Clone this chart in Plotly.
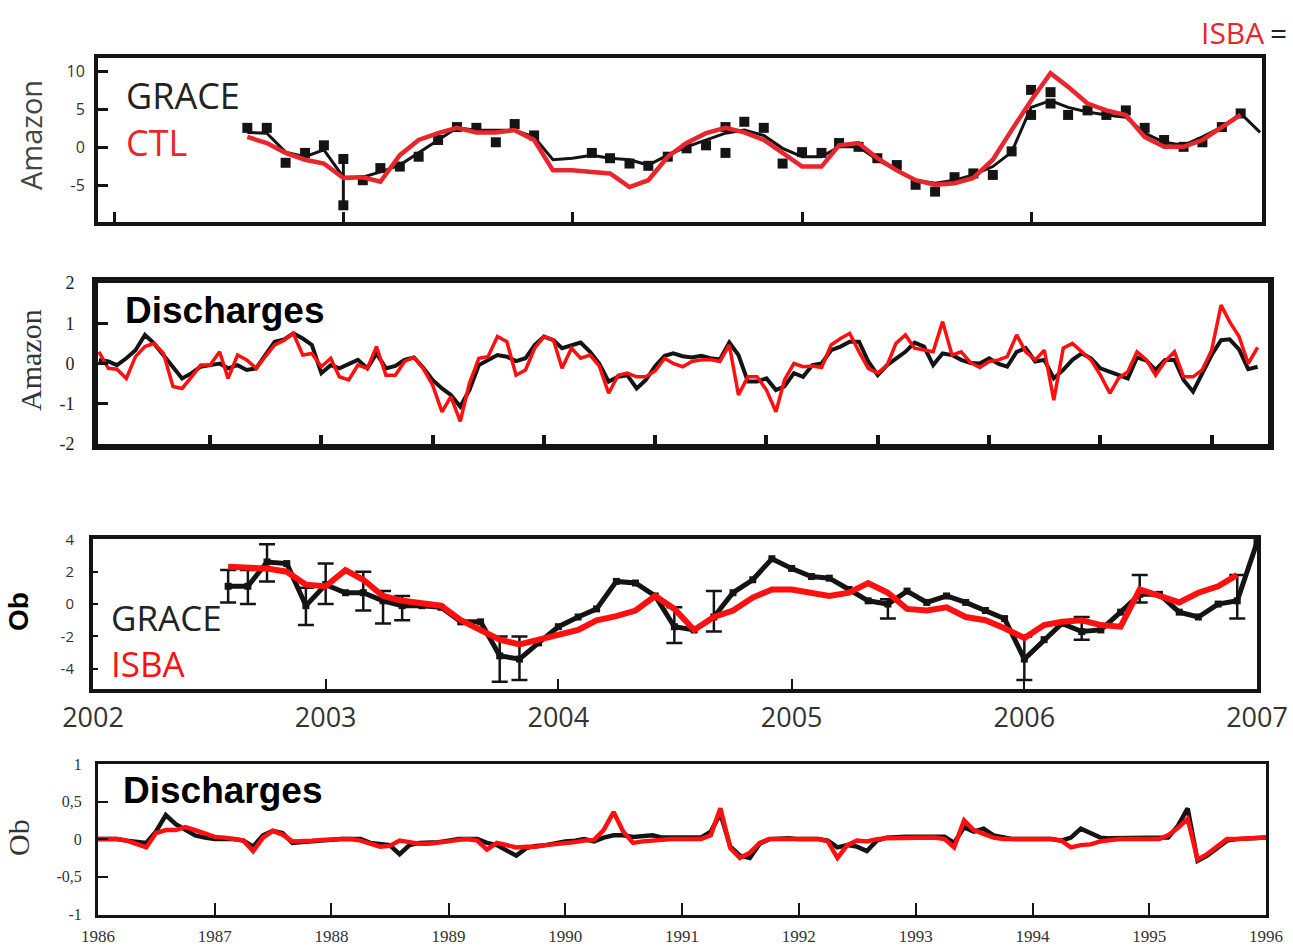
import pandas as pd
import plotly.graph_objects as go

W, H = 1293, 951

# ---------------- Amazon: water storage, GRACE vs CTL ----------------
amz_tws_months = pd.date_range("2002-08-01", periods=54, freq="MS")
amz_grace_line = [2.0, 1.9, -0.6, -1.2, -0.3, -3.9, -3.9, -3.2, -2.3, -0.7,
                  1.0, 2.6, 2.3, 2.3, 2.3, 1.4, -1.6, -1.4, -1.0, -1.4,
                  -1.6, -2.3, -1.0, 0.1, 1.0, 1.9, 2.3, 1.6, -0.1, -1.2,
                  -1.2, 0.1, 0.1, -1.6, -3.0, -4.3, -4.7, -4.3, -3.6, -2.5,
                  -0.6, 5.3, 6.2, 5.3, 4.7, 4.3, 4.0, 1.9, 0.7, 0.3,
                  1.4, 2.7, 4.5, 2.0]
amz_ctl = [1.4, 0.6, -0.7, -1.6, -2.1, -4.0, -3.9, -4.5, -1.0, 1.0,
           1.9, 2.6, 2.0, 2.0, 2.3, 1.0, -3.0, -3.0, -3.2, -3.4,
           -5.2, -4.3, -1.2, 0.6, 1.9, 2.6, 2.0, 1.0, -0.7, -2.5,
           -2.5, 0.3, 0.6, -1.4, -3.0, -4.3, -4.9, -4.7, -4.0, -1.6,
           2.3, 6.2, 9.8, 8.0, 5.8, 4.9, 4.3, 1.4, 0.1, 0.1,
           1.0, 2.6, 4.3]
amz_grace_pt_month = ["2002-08", "2002-09", "2002-10", "2002-11", "2002-12",
                      "2003-02", "2003-03", "2003-04", "2003-05", "2003-06",
                      "2003-07", "2003-08", "2003-09", "2003-10", "2003-11",
                      "2004-02", "2004-03", "2004-04", "2004-05", "2004-06",
                      "2004-07", "2004-08", "2004-09", "2004-09", "2004-10",
                      "2004-11", "2004-12", "2005-01", "2005-02", "2005-03",
                      "2005-04", "2005-05", "2005-06", "2005-07", "2005-08",
                      "2005-09", "2005-10", "2005-11", "2005-12", "2006-01",
                      "2006-01", "2006-02", "2006-02", "2006-03", "2006-04",
                      "2006-05", "2006-06", "2006-07", "2006-08", "2006-09",
                      "2006-10", "2006-11", "2006-12"]
amz_grace_pt_value = [2.6, 2.6, -2.0, -0.7, 0.3,
                      -4.3, -2.7, -2.5, -1.2, 1.0,
                      2.7, 2.6, 0.7, 3.1, 1.6,
                      -0.7, -1.4, -2.1, -2.4, -1.2,
                      -0.1, 0.3, -0.7, 2.7, 3.4,
                      2.6, -2.1, -0.6, -0.7, 0.6,
                      0.1, -1.4, -2.3, -4.9, -5.8,
                      -3.9, -3.4, -3.6, -0.5, 4.3,
                      7.6, 7.3, 5.8, 4.3, 4.9,
                      4.3, 4.9, 2.6, 1.0, 0.1,
                      0.7, 2.7, 4.5]
amz_errbar_month = ["2003-01", "2003-01"]
amz_errbar_value = [-1.5, -7.6]
amz_tws_ticks = [-5, 0, 5, 10]
amz_tws_years = ["2002-01-01", "2003-01-01", "2004-01-01", "2005-01-01", "2006-01-01"]

# ---------------- Amazon: discharge anomalies ----------------
amz_q_months = pd.date_range("1985-01-01", periods=126, freq="MS")
amz_q_obs = [0.09, 0.05, -0.04, 0.13, 0.33, 0.71, 0.5, 0.21, -0.08, -0.37,
             -0.24, -0.08, -0.04, 0.0, -0.12, -0.04, -0.16, -0.12, 0.21, 0.54,
             0.6, 0.75, 0.62, 0.46, -0.24, -0.04, -0.12, 0.0, 0.09, -0.12,
             0.25, -0.12, -0.06, 0.09, 0.15, -0.10, -0.41, -0.62, -0.78, -1.07,
             -0.66, -0.04, 0.07, 0.21, 0.17, 0.06, 0.13, 0.46, 0.67, 0.58,
             0.38, 0.46, 0.52, 0.29, 0.0, -0.45, -0.33, -0.29, -0.62, -0.41,
             -0.06, 0.19, 0.25, 0.18, 0.15, 0.19, 0.13, 0.10, 0.52, 0.21,
             -0.45, -0.45, -0.37, -0.66, -0.57, -0.24, -0.33, -0.04, 0.0, 0.33,
             0.42, 0.54, 0.54, 0.05, -0.29, -0.04, 0.13, 0.29, 0.52, 0.42,
             -0.04, 0.25, 0.21, 0.09, 0.01, 0.0, 0.13, -0.01, -0.08, 0.29,
             0.38, 0.05, 0.09, -0.37, -0.16, 0.09, 0.25, 0.13, -0.12, -0.2,
             -0.29, -0.37, 0.15, 0.07, -0.16, 0.09, 0.09, -0.41, -0.7, -0.24,
             0.21, 0.58, 0.6, 0.35, -0.14, -0.08]
amz_q_isba = [0.29, -0.12, -0.14, -0.37, 0.17, 0.42, 0.5, 0.25, -0.57, -0.62,
              -0.33, -0.04, -0.04, 0.29, -0.37, 0.21, 0.09, -0.12, 0.17, 0.46,
              0.58, 0.75, 0.21, 0.25, -0.08, 0.13, -0.33, -0.41, -0.04, -0.12,
              0.42, -0.29, -0.29, 0.05, 0.15, -0.12, -0.53, -1.2, -0.82, -1.44,
              -0.49, 0.13, 0.17, 0.67, 0.54, -0.29, -0.16, 0.38, 0.67, 0.58,
              -0.12, 0.38, 0.13, 0.21, -0.06, -0.74, -0.29, -0.24, -0.33, -0.33,
              -0.18, 0.13, 0.0, -0.08, 0.05, 0.09, 0.10, 0.05, 0.46, -0.78,
              -0.33, -0.33, -0.66, -1.2, -0.41, 0.0, -0.08, -0.06, -0.1, 0.46,
              0.62, 0.75, 0.29, -0.12, -0.24, -0.04, 0.5, 0.71, 0.38, 0.33,
              0.29, 1.04, 0.21, 0.29, 0.02, -0.1, 0.05, 0.09, 0.17, 0.71,
              0.29, 0.09, 0.33, -0.91, 0.38, 0.5, 0.29, 0.09, -0.29, -0.74,
              -0.37, -0.2, 0.29, 0.09, -0.29, 0.05, 0.29, -0.33, -0.33, -0.16,
              0.33, 1.45, 1.04, 0.67, 0.0, 0.4]
amz_q_ticks = [-2, -1, 0, 1, 2]
amz_q_years = [f"{y}-01-01" for y in range(1986, 1996)]

# ---------------- Ob: water storage, GRACE vs ISBA ----------------
ob_tws_months = pd.date_range("2002-08-01", periods=54, freq="MS")
ob_grace = [1.1, 1.1, 2.6, 2.5, -0.1, 1.2, 0.7, 0.7, 0.2, -0.1,
            -0.1, -0.2, -1.1, -1.1, -3.2, -3.4, -2.4, -1.4, -0.8, -0.3,
            1.4, 1.3, 0.5, -1.4, -1.6, -0.8, 0.7, 1.5, 2.8, 2.2,
            1.7, 1.6, 0.9, 0.2, 0.0, 0.8, 0.1, 0.5, 0.1, -0.4,
            -0.9, -3.4, -2.2, -1.2, -1.7, -1.6, -0.5, 0.6, 0.6, -0.5,
            -0.8, 0.0, 0.2, 3.8]
ob_isba = [2.3, 2.25, 2.2, 2.0, 1.2, 1.1, 2.1, 1.5, 0.5, 0.2,
           0.0, -0.1, -1.0, -1.6, -2.2, -2.5, -2.2, -1.9, -1.6, -1.0,
           -0.75, -0.4, 0.5, -0.3, -1.6, -0.8, -0.4, 0.4, 0.9, 0.9,
           0.7, 0.5, 0.7, 1.3, 0.7, -0.3, -0.4, -0.2, -0.8, -1.0,
           -1.5, -2.1, -1.3, -1.1, -1.0, -1.3, -1.4, 0.9, 0.5, 0.1,
           0.7, 1.1, 1.8]
ob_err_month = ["2002-08", "2002-09", "2002-10", "2002-12", "2003-01", "2003-03",
                "2003-04", "2003-05", "2003-10", "2003-11", "2004-07", "2004-09",
                "2005-06", "2006-01", "2006-04", "2006-07", "2006-12"]
ob_err_low = [0.1, 0.0, 1.4, -1.3, 0.0, -0.4, -1.2, -1.0, -4.8, -4.7, -2.4, -1.7,
              -0.9, -4.7, -2.2, 0.1, -0.9]
ob_err_high = [2.1, 2.1, 3.7, 1.0, 2.5, 2.0, 0.8, 0.5, -2.0, -2.0, -0.2, 0.8,
               0.3, -2.0, -0.8, 1.8, 1.8]
ob_tws_ticks = [-4, -2, 0, 2, 4]
ob_tws_years = ["2002", "2003", "2004", "2005", "2006", "2007"]

# ---------------- Ob: discharge anomalies ----------------
ob_q_months = pd.date_range("1986-01-01", periods=121, freq="MS")
ob_q_obs = [0.0, 0.0, 0.0, -0.02, -0.03, -0.05, 0.10, 0.32, 0.20, 0.12, 0.05, 0.02,
            0.0, 0.0, 0.0, -0.02, -0.10, 0.05, 0.11, 0.08, -0.05, -0.04, -0.03, -0.02,
            0.0, 0.0, 0.0, 0.0, -0.05, -0.07, -0.08, -0.20, -0.08, -0.05, -0.05, -0.04,
            -0.02, 0.0, 0.0, 0.0, -0.05, -0.08, -0.15, -0.22, -0.12, -0.09, -0.08, -0.05,
            -0.03, -0.02, 0.0, -0.03, 0.02, 0.05, 0.05, 0.03, 0.04, 0.05, 0.02, 0.02,
            0.02, 0.02, 0.02, 0.10, 0.34, -0.10, -0.22, -0.25, -0.06, 0.0, 0.01, 0.01,
            0.0, 0.0, 0.0, -0.02, -0.11, -0.08, -0.10, -0.16, -0.02, 0.02, 0.03, 0.03,
            0.03, 0.03, 0.04, 0.03, -0.05, 0.16, 0.10, 0.14, 0.05, 0.02, 0.0, 0.0,
            0.0, 0.0, 0.0, -0.02, 0.02, 0.14, 0.08, 0.02, 0.01, 0.01, 0.02, 0.02,
            0.02, 0.02, 0.02, 0.18, 0.41, -0.29, -0.22, -0.12, -0.02, 0.0, 0.01, 0.02,
            0.02]
ob_q_isba = [0.0, 0.0, 0.0, -0.02, -0.06, -0.11, 0.08, 0.12, 0.12, 0.16, 0.12, 0.08,
             0.03, 0.02, 0.0, -0.02, -0.16, 0.02, 0.11, 0.06, -0.03, -0.03, -0.02, -0.01,
             0.0, 0.0, 0.0, -0.02, -0.06, -0.10, -0.09, -0.02, -0.04, -0.06, -0.06, -0.05,
             -0.03, -0.01, 0.0, -0.02, -0.14, -0.05, -0.08, -0.11, -0.10, -0.10, -0.08, -0.07,
             -0.05, -0.04, -0.02, -0.01, 0.12, 0.36, 0.10, -0.05, -0.03, -0.02, 0.0, 0.0,
             0.0, 0.0, 0.0, 0.05, 0.41, -0.12, -0.25, -0.18, -0.05, 0.0, 0.0, 0.0,
             0.0, 0.0, 0.0, -0.03, -0.25, -0.08, -0.02, -0.03, 0.0, 0.01, 0.01, 0.02,
             0.02, 0.02, 0.02, 0.0, -0.11, 0.25, 0.12, 0.07, 0.02, 0.0, 0.0, 0.0,
             -0.01, -0.01, 0.0, -0.02, -0.11, -0.08, -0.07, -0.03, -0.01, 0.0, 0.0, 0.0,
             0.0, 0.0, 0.05, 0.15, 0.27, -0.27, -0.20, -0.10, 0.0, 0.0, 0.01, 0.02,
             0.02]
ob_q_ticks = [-1, -0.5, 0, 0.5, 1]
ob_q_ticklabels = ["-1", "-0,5", "0", "0,5", "1"]
ob_q_years = [str(y) for y in range(1986, 1997)]

BLACK = "#141414"
RED_A = "#e8262b"
RED = "#ff1010"
SANS = "Open Sans, DejaVu Sans, sans-serif"
SERIF = "Liberation Serif, Times New Roman, serif"
ARIAL = "Liberation Sans, Arial, sans-serif"


def dx(left, right):
    return [left / W, right / W]


def dy(top, bottom):
    return [1 - bottom / H, 1 - top / H]


fig = go.Figure()

# panel 1
fig.add_trace(go.Scatter(x=amz_grace_pt_month, y=amz_grace_pt_value, mode="markers",
                         marker=dict(symbol="square", size=10, color=BLACK),
                         xaxis="x", yaxis="y"))
fig.add_trace(go.Scatter(x=amz_errbar_month, y=amz_errbar_value, mode="lines+markers",
                         line=dict(color=BLACK, width=3),
                         marker=dict(symbol="square", size=10, color=BLACK),
                         xaxis="x", yaxis="y"))
fig.add_trace(go.Scatter(x=amz_tws_months, y=amz_grace_line, mode="lines",
                         line=dict(color=BLACK, width=3), xaxis="x", yaxis="y"))
fig.add_trace(go.Scatter(x=amz_tws_months[:len(amz_ctl)], y=amz_ctl, mode="lines",
                         line=dict(color=RED_A, width=4.5), xaxis="x", yaxis="y"))

# panel 2
fig.add_trace(go.Scatter(x=amz_q_months, y=amz_q_obs, mode="lines",
                         line=dict(color=BLACK, width=4), xaxis="x2", yaxis="y2"))
fig.add_trace(go.Scatter(x=amz_q_months, y=amz_q_isba, mode="lines",
                         line=dict(color=RED, width=3.5), xaxis="x2", yaxis="y2"))

# panel 3
err_mid = [(lo + hi) / 2 for lo, hi in zip(ob_err_low, ob_err_high)]
err_half = [(hi - lo) / 2 for lo, hi in zip(ob_err_low, ob_err_high)]
fig.add_trace(go.Scatter(x=ob_err_month, y=err_mid, mode="markers",
                         marker=dict(size=1, color="rgba(0,0,0,0)"),
                         error_y=dict(type="data", array=err_half, symmetric=True,
                                      color=BLACK, thickness=2.5, width=8),
                         xaxis="x3", yaxis="y3"))
fig.add_trace(go.Scatter(x=ob_tws_months, y=ob_grace, mode="lines+markers",
                         line=dict(color=BLACK, width=5),
                         marker=dict(symbol="square", size=7, color=BLACK),
                         xaxis="x3", yaxis="y3"))
fig.add_trace(go.Scatter(x=ob_tws_months[:len(ob_isba)], y=ob_isba, mode="lines",
                         line=dict(color=RED, width=6), xaxis="x3", yaxis="y3"))

# panel 4
fig.add_trace(go.Scatter(x=ob_q_months, y=ob_q_obs, mode="lines",
                         line=dict(color=BLACK, width=4.5), xaxis="x4", yaxis="y4"))
fig.add_trace(go.Scatter(x=ob_q_months, y=ob_q_isba, mode="lines",
                         line=dict(color=RED, width=4.5), xaxis="x4", yaxis="y4"))

common = dict(showgrid=False, zeroline=False, showline=True, mirror=True,
              linecolor=BLACK, automargin=False)

fig.update_layout(
    width=W, height=H,
    margin=dict(l=0, r=0, t=0, b=0, pad=0, autoexpand=False),
    paper_bgcolor="white", plot_bgcolor="white", showlegend=False,
    xaxis=dict(domain=dx(98, 1262), anchor="y", type="date",
               range=["2001-12-06", "2007-01-04"], tickvals=amz_tws_years,
               showticklabels=False, ticks="inside", ticklen=10, tickwidth=3,
               tickcolor=BLACK, linewidth=4, **common),
    yaxis=dict(domain=dy(58, 222), anchor="x", range=[-9.8, 11.8],
               tickvals=amz_tws_ticks, ticktext=[str(v) for v in amz_tws_ticks],
               ticks="inside", ticklen=10, tickwidth=3, tickcolor=BLACK,
               tickfont=dict(family=SANS, size=16, color="#333"), ticklabelstandoff=6,
               linewidth=4, **common),
    xaxis2=dict(domain=dx(98, 1268), anchor="y2", type="date",
                range=["1984-12-29", "1995-07-05"], tickvals=amz_q_years,
                showticklabels=False, ticks="inside", ticklen=9, tickwidth=4,
                tickcolor=BLACK, linewidth=6, **common),
    yaxis2=dict(domain=dy(283, 444), anchor="x2", range=[-2, 2],
                tickvals=amz_q_ticks, ticktext=[str(v) for v in amz_q_ticks],
                ticks="inside", ticklen=10, tickwidth=3, tickcolor=BLACK,
                tickfont=dict(family=SERIF, size=18, color="#222"), ticklabelstandoff=14,
                linewidth=6, **common),
    xaxis3=dict(domain=dx(93, 1257), anchor="y3", type="date",
                range=["2002-01-01", "2007-01-01"],
                tickvals=[f"{y}-01-01" for y in ob_tws_years], ticktext=ob_tws_years,
                ticks="inside", ticklen=10, tickwidth=2, tickcolor=BLACK,
                tickfont=dict(family=SANS, size=27, color="#333"), ticklabelstandoff=2,
                linewidth=4, **common),
    yaxis3=dict(domain=dy(539, 689), anchor="x3", range=[-5.25, 4.02],
                tickvals=ob_tws_ticks, ticktext=[str(v) for v in ob_tws_ticks],
                ticks="inside", ticklen=5, tickwidth=2, tickcolor=BLACK,
                tickfont=dict(family=SANS, size=15, color="#333"), ticklabelstandoff=12,
                linewidth=4, **common),
    xaxis4=dict(domain=dx(98, 1266), anchor="y4", type="date",
                range=["1986-01-01", "1996-01-01"],
                tickvals=[f"{y}-01-01" for y in ob_q_years], ticktext=ob_q_years,
                ticks="inside", ticklen=12, tickwidth=2, tickcolor=BLACK,
                tickfont=dict(family=SERIF, size=17, color="#333"), ticklabelstandoff=4,
                linewidth=3, **common),
    yaxis4=dict(domain=dy(764, 915), anchor="x4", range=[-1.01, 1.0],
                tickvals=ob_q_ticks, ticktext=ob_q_ticklabels,
                ticks="inside", ticklen=10, tickwidth=2, tickcolor=BLACK,
                tickfont=dict(family=SERIF, size=16, color="#333"), ticklabelstandoff=10,
                linewidth=3, **common),
)

# thicker stroke along the top-left of the first frame
fig.add_shape(type="line", xref="paper", yref="paper",
              x0=98 / W, x1=378 / W, y0=1 - 56 / H, y1=1 - 56 / H,
              line=dict(color=BLACK, width=3))


def label(text, x, y, font, size, color, anchor="left", angle=0):
    fig.add_annotation(text=text, x=x / W, y=1 - y / H, xref="paper", yref="paper",
                       xanchor=anchor, yanchor="middle", showarrow=False,
                       textangle=angle, font=dict(family=font, size=size, color=color))


label("ISBA", 1266, 32, SANS, 30, RED_A, anchor="right")
label("=", 1268, 32, SANS, 30, "#222")

label("Amazon", 30, 135, SANS, 29, "#444", anchor="center", angle=-90)
label("GRACE", 124, 95, SANS, 36, "#222")
label("CTL", 124, 143, SANS, 36, RED_A)

label("Amazon", 30, 360, SERIF, 30, "#333", anchor="center", angle=-90)
label("<b>Discharges</b>", 123, 310, ARIAL, 37, "black")

label("<b>Ob</b>", 18, 612, ARIAL, 28, "black", anchor="center", angle=-90)
label("GRACE", 109, 617, SANS, 35, "#222")
label("ISBA", 109, 663, SANS, 35, RED)

label("Ob", 18, 838, SERIF, 30, "#333", anchor="center", angle=-90)
label("<b>Discharges</b>", 121, 790, ARIAL, 37, "black")

fig.write_html("out.html")
